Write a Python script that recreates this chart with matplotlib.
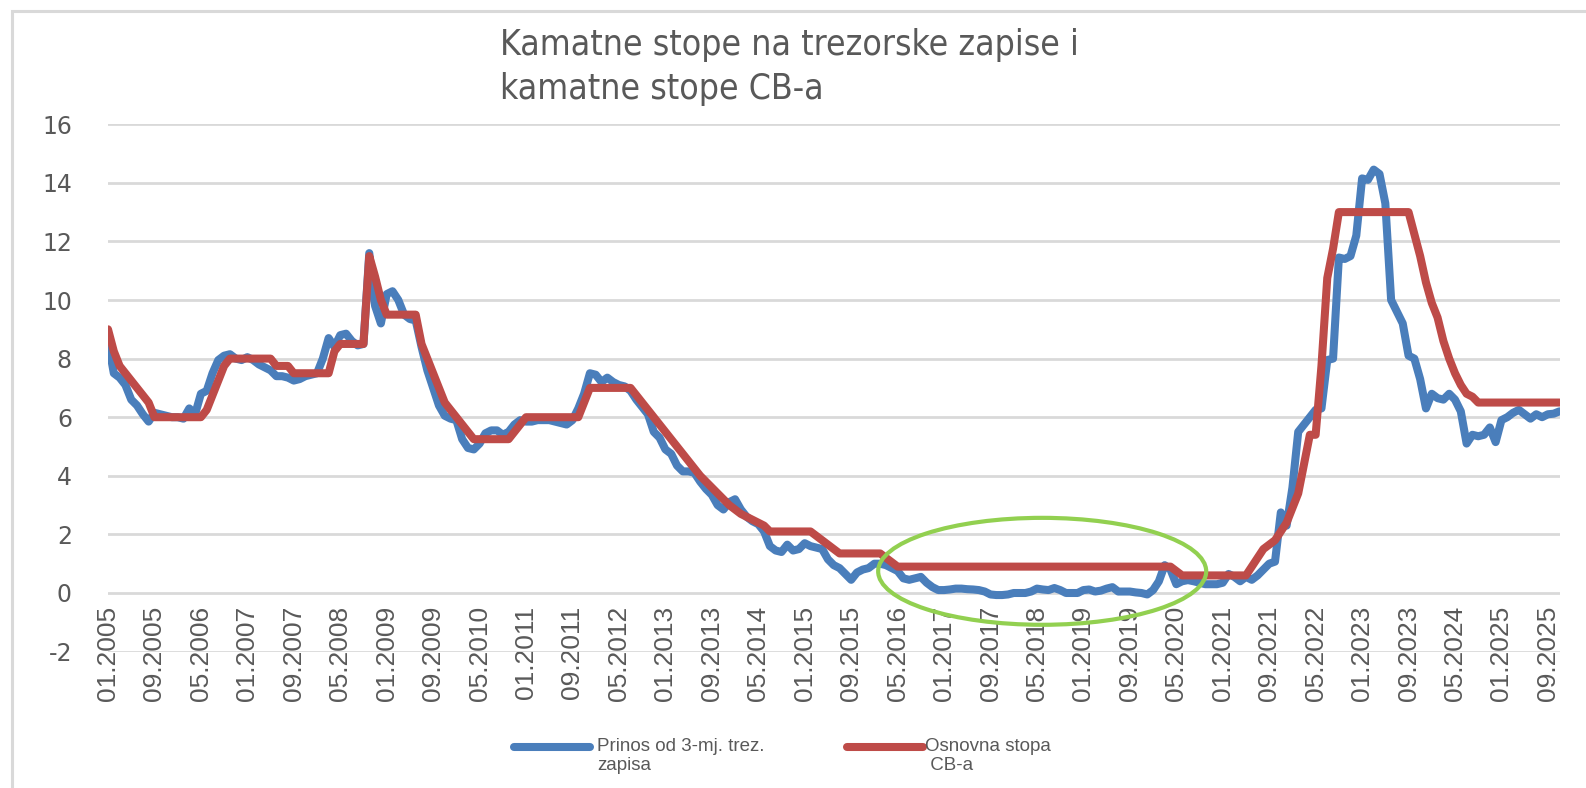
import matplotlib
matplotlib.use("Agg")
import matplotlib.pyplot as plt
from matplotlib.patches import Ellipse, Rectangle
from matplotlib.lines import Line2D

plt.rcParams["axes.unicode_minus"] = False

# monthly data, 01.2005 - 11.2025 (one row per year)
tbill_rows = [
    [8.6, 7.5, 7.35, 7.1, 6.6, 6.4, 6.1, 5.85, 6.15, 6.1, 6.05, 6.0],           # 2005
    [6.0, 5.95, 6.3, 6.1, 6.8, 6.9, 7.5, 7.95, 8.1, 8.15, 8.0, 7.95],           # 2006
    [8.05, 7.95, 7.8, 7.7, 7.6, 7.4, 7.4, 7.35, 7.25, 7.3, 7.4, 7.45],          # 2007
    [7.5, 8.0, 8.7, 8.4, 8.8, 8.85, 8.6, 8.45, 8.5, 11.6, 9.8, 9.2],            # 2008
    [10.2, 10.3, 10.0, 9.5, 9.35, 9.3, 8.4, 7.6, 7.0, 6.4, 6.05, 5.95],         # 2009
    [5.9, 5.25, 4.95, 4.9, 5.1, 5.45, 5.55, 5.55, 5.4, 5.5, 5.75, 5.9],         # 2010
    [5.85, 5.85, 5.9, 5.9, 5.9, 5.85, 5.8, 5.75, 5.9, 6.3, 6.8, 7.5],           # 2011
    [7.45, 7.2, 7.35, 7.2, 7.1, 7.05, 6.9, 6.6, 6.35, 6.1, 5.5, 5.3],           # 2012
    [4.9, 4.75, 4.35, 4.15, 4.15, 4.1, 3.8, 3.55, 3.35, 3.0, 2.85, 3.1],        # 2013
    [3.2, 2.85, 2.6, 2.45, 2.35, 2.1, 1.6, 1.45, 1.4, 1.65, 1.45, 1.5],         # 2014
    [1.7, 1.6, 1.55, 1.5, 1.15, 0.95, 0.85, 0.65, 0.45, 0.7, 0.8, 0.85],        # 2015
    [1.0, 1.0, 0.95, 0.85, 0.75, 0.5, 0.45, 0.5, 0.55, 0.35, 0.2, 0.1],         # 2016
    [0.1, 0.12, 0.15, 0.15, 0.13, 0.12, 0.1, 0.05, -0.05, -0.07, -0.07, -0.05], # 2017
    [0.0, 0.0, 0.0, 0.05, 0.15, 0.12, 0.1, 0.17, 0.1, 0.0, 0.0, 0.0],           # 2018
    [0.1, 0.12, 0.05, 0.08, 0.15, 0.2, 0.05, 0.05, 0.05, 0.02, 0.0, -0.05],     # 2019
    [0.1, 0.4, 0.95, 0.8, 0.3, 0.4, 0.44, 0.4, 0.35, 0.3, 0.3, 0.3],            # 2020
    [0.35, 0.65, 0.55, 0.4, 0.55, 0.45, 0.6, 0.8, 1.0, 1.07, 2.75, 2.3],        # 2021
    [3.6, 5.5, 5.75, 6.0, 6.25, 6.3, 7.95, 8.0, 11.45, 11.4, 11.5, 12.2],       # 2022
    [14.15, 14.1, 14.45, 14.3, 13.3, 10.0, 9.6, 9.2, 8.1, 8.0, 7.3, 6.3],       # 2023
    [6.8, 6.65, 6.6, 6.8, 6.6, 6.2, 5.1, 5.4, 5.35, 5.4, 5.65, 5.15],           # 2024
    [5.9, 6.0, 6.15, 6.25, 6.1, 5.95, 6.1, 6.0, 6.1, 6.12, 6.2],                # 2025
]

cb_rows = [
    [9.0, 8.25, 7.75, 7.5, 7.25, 7.0, 6.75, 6.5, 6.0, 6.0, 6.0, 6.0],           # 2005
    [6.0, 6.0, 6.0, 6.0, 6.0, 6.25, 6.75, 7.25, 7.75, 8.0, 8.0, 8.0],           # 2006
    [8.0, 8.0, 8.0, 8.0, 8.0, 7.75, 7.75, 7.75, 7.5, 7.5, 7.5, 7.5],            # 2007
    [7.5, 7.5, 7.5, 8.25, 8.5, 8.5, 8.5, 8.5, 8.5, 11.5, 10.8, 10.0],           # 2008
    [9.5, 9.5, 9.5, 9.5, 9.5, 9.5, 8.5, 8.0, 7.5, 7.0, 6.5, 6.25],              # 2009
    [6.0, 5.75, 5.5, 5.25, 5.25, 5.25, 5.25, 5.25, 5.25, 5.25, 5.5, 5.75],      # 2010
    [6.0, 6.0, 6.0, 6.0, 6.0, 6.0, 6.0, 6.0, 6.0, 6.0, 6.5, 7.0],               # 2011
    [7.0, 7.0, 7.0, 7.0, 7.0, 7.0, 7.0, 6.75, 6.5, 6.25, 6.0, 5.75],            # 2012
    [5.5, 5.25, 5.0, 4.75, 4.5, 4.25, 4.0, 3.8, 3.6, 3.4, 3.2, 3.0],            # 2013
    [2.85, 2.7, 2.6, 2.5, 2.4, 2.3, 2.1, 2.1, 2.1, 2.1, 2.1, 2.1],              # 2014
    [2.1, 2.1, 1.95, 1.8, 1.65, 1.5, 1.35, 1.35, 1.35, 1.35, 1.35, 1.35],       # 2015
    [1.35, 1.35, 1.2, 1.05, 0.9, 0.9, 0.9, 0.9, 0.9, 0.9, 0.9, 0.9],            # 2016
    [0.9, 0.9, 0.9, 0.9, 0.9, 0.9, 0.9, 0.9, 0.9, 0.9, 0.9, 0.9],               # 2017
    [0.9, 0.9, 0.9, 0.9, 0.9, 0.9, 0.9, 0.9, 0.9, 0.9, 0.9, 0.9],               # 2018
    [0.9, 0.9, 0.9, 0.9, 0.9, 0.9, 0.9, 0.9, 0.9, 0.9, 0.9, 0.9],               # 2019
    [0.9, 0.9, 0.9, 0.9, 0.75, 0.6, 0.6, 0.6, 0.6, 0.6, 0.6, 0.6],              # 2020
    [0.6, 0.6, 0.6, 0.6, 0.6, 0.9, 1.2, 1.5, 1.65, 1.8, 2.1, 2.4],              # 2021
    [2.9, 3.4, 4.4, 5.4, 5.4, 7.75, 10.75, 11.75, 13.0, 13.0, 13.0, 13.0],      # 2022
    [13.0, 13.0, 13.0, 13.0, 13.0, 13.0, 13.0, 13.0, 13.0, 12.25, 11.5, 10.6],  # 2023
    [9.9, 9.4, 8.6, 8.0, 7.5, 7.1, 6.8, 6.7, 6.5, 6.5, 6.5, 6.5],               # 2024
    [6.5, 6.5, 6.5, 6.5, 6.5, 6.5, 6.5, 6.5, 6.5, 6.5, 6.5],                    # 2025
]

tick_labels = ["01.2005", "09.2005", "05.2006", "01.2007", "09.2007", "05.2008",
               "01.2009", "09.2009", "05.2010", "01.2011", "09.2011", "05.2012",
               "01.2013", "09.2013", "05.2014", "01.2015", "09.2015", "05.2016",
               "01.2017", "09.2017", "05.2018", "01.2019", "09.2019", "05.2020",
               "01.2021", "09.2021", "05.2022", "01.2023", "09.2023", "05.2024",
               "01.2025", "09.2025"]

tbill = [v for row in tbill_rows for v in row]
cb_rate = [v for row in cb_rows for v in row]
months = list(range(len(tbill)))

title = "Kamatne stope na trezorske zapise i\nkamatne stope CB-a"
label_tbill = "Prinos od 3-mj. trez.\nzapisa"
label_cb = "Osnovna stopa\n CB-a"

BLUE = "#4a7ebb"
RED = "#be4b48"
GREEN = "#92d050"
GREY_TXT = "#595959"
GRID = "#d9d9d9"

W, H = 1586, 788
fig = plt.figure(figsize=(W / 100, H / 100), dpi=100)
fig.patch.set_facecolor("white")

# outer frame (only top/left visible)
fig.patches.append(Rectangle((11.5 / W, -0.1), 1.2, 1.1 - 10.5 / H,
                             transform=fig.transFigure, fill=False,
                             edgecolor=GRID, lw=2.2))

ax = fig.add_axes([108 / W, 1 - 651.6 / H, 1451.5 / W, 527.4 / H])
ax.set_xlim(0, 250)
ax.set_ylim(-2, 16)
ax.set_yticks(range(-2, 17, 2))
ax.grid(axis="y", color=GRID, lw=2.0)
ax.set_axisbelow(True)
for s in ["top", "right", "left"]:
    ax.spines[s].set_visible(False)
ax.spines["bottom"].set_position(("data", 0))
ax.spines["bottom"].set_visible(False)

ax.set_xticks(range(0, 249, 8))
ax.set_xticklabels(tick_labels, rotation=90, fontsize=19,
                   family=["Liberation Sans", "DejaVu Sans"], color=GREY_TXT)
ax.tick_params(axis="x", length=0, pad=9)
ax.tick_params(axis="y", length=0, pad=26, labelsize=17, labelcolor=GREY_TXT)

ax.plot(months, tbill, color=BLUE, lw=5.8, solid_capstyle="round",
        solid_joinstyle="round")
ax.plot(months, cb_rate, color=RED, lw=5.8, solid_capstyle="round",
        solid_joinstyle="round")

# highlight of the near-zero period
ax.add_patch(Ellipse((160.9, 0.74), 56.5, 3.65, fill=False,
                     edgecolor=GREEN, lw=3.0, zorder=3))

fig.text(500 / W, 1 - 28 / H, title, ha="left", va="top", fontsize=25.5,
         color=GREY_TXT, linespacing=1.38, family="DejaVu Sans",
         fontstretch="condensed")

# legend
for x0, x1, x_txt, col, lab in [(514, 590, 597, BLUE, label_tbill),
                                 (847, 923, 925, RED, label_cb)]:
    fig.add_artist(Line2D([x0 / W, x1 / W], [1 - 747 / H, 1 - 747 / H],
                          transform=fig.transFigure, color=col, lw=5.8,
                          solid_capstyle="round"))
    fig.text(x_txt / W, 1 - 738 / H, lab, ha="left", va="top", fontsize=13.5,
             color=GREY_TXT, family=["Liberation Sans", "DejaVu Sans"],
             linespacing=1.15)

fig.savefig("out.png", dpi=100)
